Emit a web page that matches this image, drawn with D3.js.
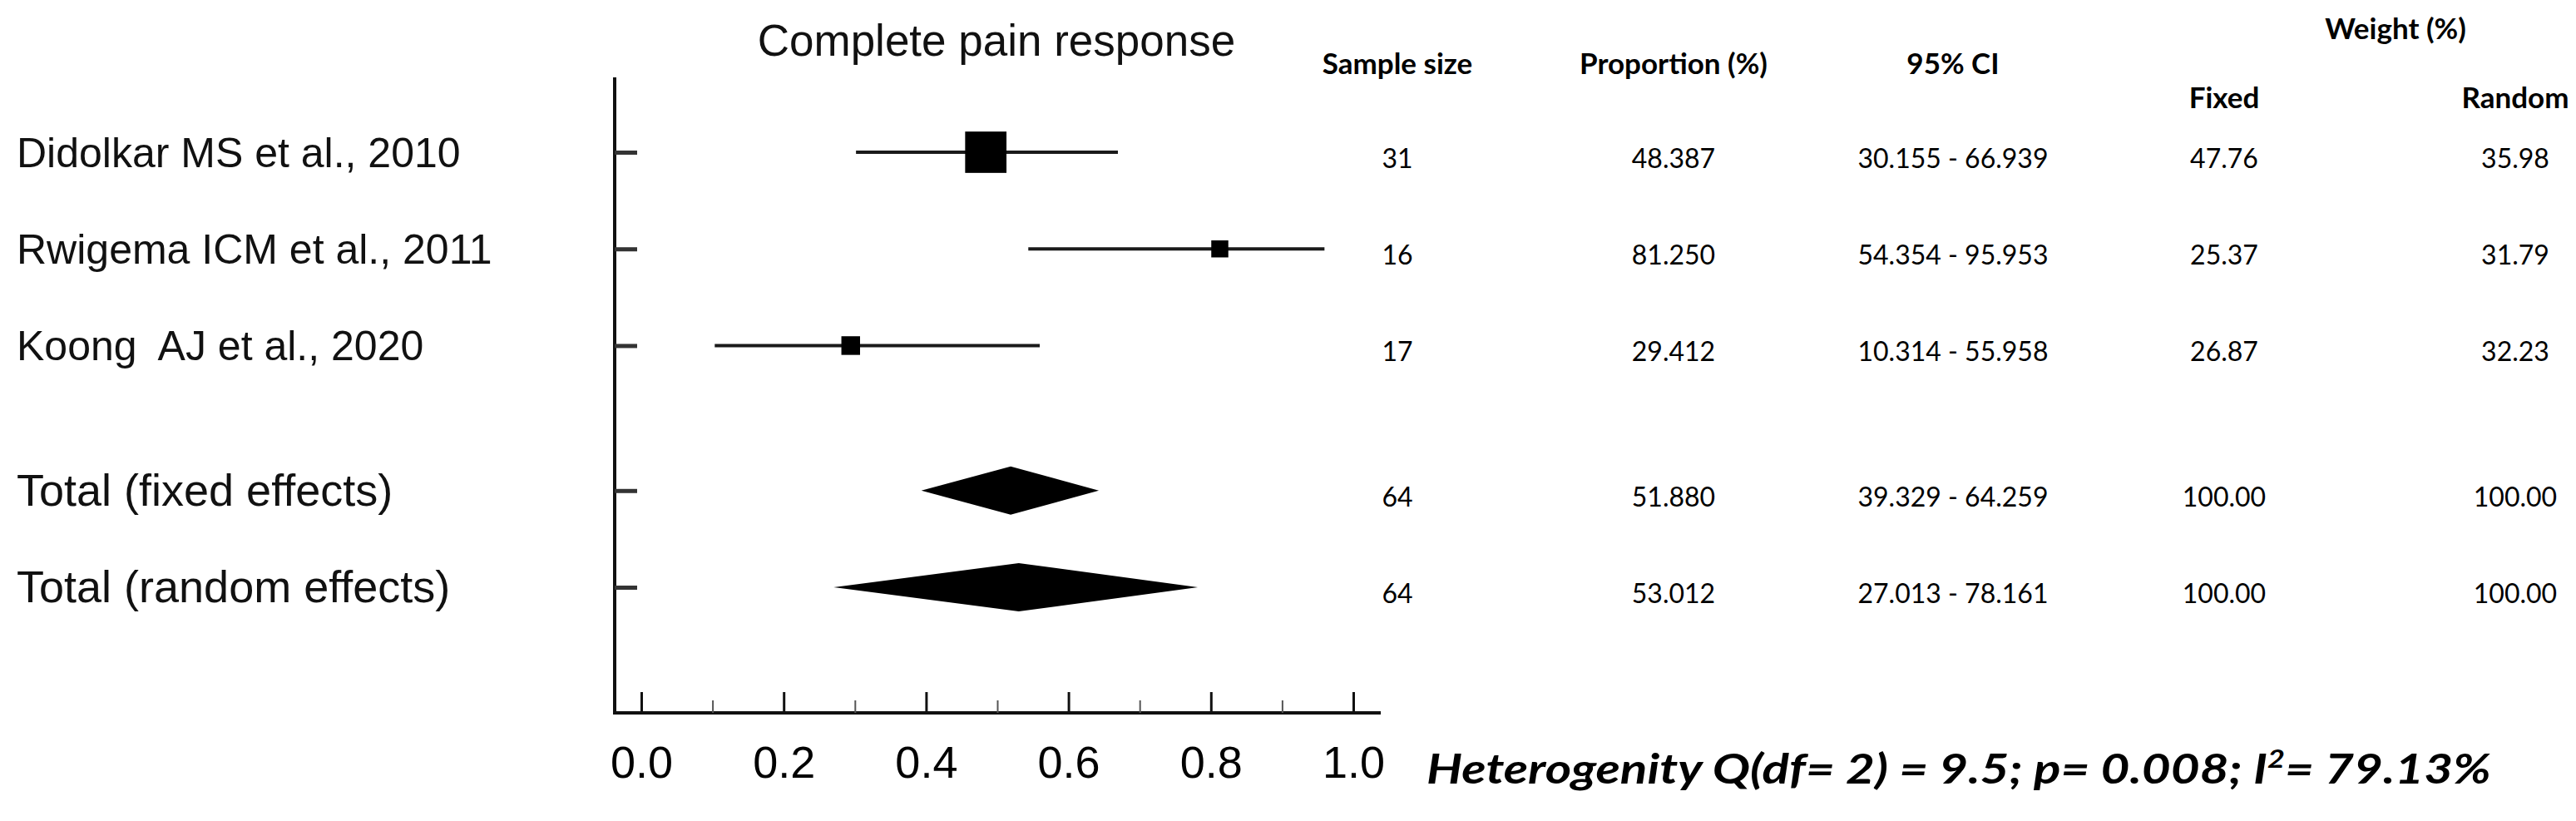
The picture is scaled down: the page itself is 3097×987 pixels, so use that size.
<!DOCTYPE html>
<meta charset="utf-8">
<title>Complete pain response</title>
<style>

body {
  margin: 0;
  background: #fff;
}

svg {
  display: block;
}

.label {
  font-family: "Liberation Sans", Arial, sans-serif;
  font-size: 50px;
  fill: #111;
  white-space: pre;
}

.label.total {
  font-size: 54px;
}

.title {
  font-family: "Liberation Sans", Arial, sans-serif;
  font-size: 53px;
  fill: #111;
}

.head {
  font-family: Lato, "Liberation Sans", sans-serif;
  font-size: 35px;
  font-weight: bold;
  fill: #000;
}

.cell {
  font-family: Lato, "Liberation Sans", sans-serif;
  font-size: 32px;
  fill: #000;
}

.het {
  font-family: Lato, "Liberation Sans", sans-serif;
  font-size: 50px;
  font-weight: bold;
  font-style: italic;
  fill: #000;
}

.axis text {
  font-family: "Liberation Sans", Arial, sans-serif;
  font-size: 54px;
  fill: #000;
}

.axis line {
  stroke: #111;
  stroke-width: 3px;
}

.ci {
  stroke: #1a1a1a;
  stroke-width: 4px;
}

</style>
<body>
<script src="https://cdn.jsdelivr.net/npm/d3@7/dist/d3.min.js"></script>
<script>

var width = 3097,
    height = 987;

// studies first, then the two pooled estimates
var studies = ["Didolkar MS et al., 2010", "Rwigema ICM et al., 2011", "Koong  AJ et al., 2020"];
var pooled = ["Total (fixed effects)", "Total (random effects)"];
var sampleSize = [31, 16, 17, 64, 64];
var proportion = [48.387, 81.250, 29.412, 51.880, 53.012];
var ciLow = [30.155, 54.354, 10.314, 39.329, 27.013];
var ciHigh = [66.939, 95.953, 55.958, 64.259, 78.161];
var weightFixed = [47.76, 25.37, 26.87, 100.00, 100.00];
var weightRandom = [35.98, 31.79, 32.23, 100.00, 100.00];
var xTicks = [0, 0.2, 0.4, 0.6, 0.8, 1.0];
var xMinorTicks = [0.1, 0.3, 0.5, 0.7, 0.9];

var rows = studies.concat(pooled).map(function(name, i) {
  return {
    name: name,
    pooled: i >= studies.length,
    slot: i >= studies.length ? i + 0.5 : i,
    n: sampleSize[i],
    p: proportion[i] / 100,
    lo: ciLow[i] / 100,
    hi: ciHigh[i] / 100,
    wf: weightFixed[i],
    wr: weightRandom[i]
  };
});

var svg = d3.select("body").append("svg")
    .attr("width", width)
    .attr("height", height);

var x = d3.scaleLinear().domain([0, 1]).range([771, 1627]),
    y = d3.scaleLinear().domain([0, 4.5]).range([183, 706]),
    size = d3.scaleLinear().domain([25, 48]).range([20, 50]);

var axisX = 739,
    axisTop = 93,
    axisBottom = 857;

// axes
svg.append("line")
    .attr("x1", axisX).attr("x2", axisX)
    .attr("y1", axisTop).attr("y2", axisBottom + 2)
    .attr("stroke", "#111").attr("stroke-width", 4);

svg.append("line")
    .attr("x1", axisX - 2).attr("x2", 1660)
    .attr("y1", axisBottom).attr("y2", axisBottom)
    .attr("stroke", "#111").attr("stroke-width", 4);

svg.append("g")
    .attr("class", "axis")
    .attr("transform", "translate(0," + axisBottom + ")")
    .call(d3.axisBottom(x).tickValues(xTicks).tickSize(-25).tickPadding(40).tickFormat(d3.format(".1f")))
    .call(function(g) { g.select(".domain").remove(); });

svg.append("g")
    .attr("class", "axis")
    .attr("transform", "translate(0," + axisBottom + ")")
    .call(d3.axisBottom(x).tickValues(xMinorTicks).tickSize(-15).tickFormat(""))
    .call(function(g) { g.select(".domain").remove(); g.selectAll("line").style("stroke-width", "2px").style("stroke", "#555"); });

svg.append("g")
    .attr("class", "axis")
    .attr("transform", "translate(" + axisX + ",0)")
    .call(d3.axisRight(y).tickValues(rows.map(function(d) { return d.slot; })).tickSize(27).tickFormat(""))
    .call(function(g) { g.select(".domain").remove(); g.selectAll("line").style("stroke-width", "5px").style("stroke", "#333"); });

// title and row labels
svg.append("text")
    .attr("class", "title")
    .attr("x", 1198)
    .attr("y", 67)
    .attr("text-anchor", "middle")
    .text("Complete pain response");

svg.selectAll(".label")
    .data(rows)
  .enter().append("text")
    .attr("class", function(d) { return d.pooled ? "label total" : "label"; })
    .attr("x", 20)
    .attr("y", function(d) { return y(d.slot) + 18; })
    .text(function(d) { return d.name; });

// study estimates
var study = svg.selectAll(".study")
    .data(rows.filter(function(d) { return !d.pooled; }))
  .enter().append("g")
    .attr("class", "study");

study.append("line")
    .attr("class", "ci")
    .attr("x1", function(d) { return x(d.lo); })
    .attr("x2", function(d) { return x(d.hi); })
    .attr("y1", function(d) { return y(d.slot); })
    .attr("y2", function(d) { return y(d.slot); });

study.append("rect")
    .attr("x", function(d) { return x(d.p) - size(d.wf) / 2; })
    .attr("y", function(d) { return y(d.slot) - size(d.wf) / 2; })
    .attr("width", function(d) { return size(d.wf); })
    .attr("height", function(d) { return size(d.wf); })
    .attr("fill", "#000");

// pooled diamonds
svg.selectAll(".diamond")
    .data(rows.filter(function(d) { return d.pooled; }))
  .enter().append("path")
    .attr("class", "diamond")
    .attr("fill", "#000")
    .attr("d", function(d) {
      var cy = y(d.slot);
      return "M" + x(d.lo) + "," + cy +
             "L" + x(d.p) + "," + (cy - 29) +
             "L" + x(d.hi) + "," + cy +
             "L" + x(d.p) + "," + (cy + 29) + "Z";
    });

// table
var cols = [
  {x: 1680, head: "Sample size", hy: 77, f: function(d) { return d.n; }},
  {x: 2012, head: "Proportion (%)", hy: 77, f: function(d) { return (d.p * 100).toFixed(3); }},
  {x: 2348, head: "95% CI", hy: 77, f: function(d) { return (d.lo * 100).toFixed(3) + " - " + (d.hi * 100).toFixed(3); }},
  {x: 2674, head: "Fixed", hy: 118, f: function(d) { return d.wf.toFixed(2); }},
  {x: 3024, head: "Random", hy: 118, f: function(d) { return d.wr.toFixed(2); }}
];

svg.append("text")
    .attr("class", "head")
    .attr("x", 2880)
    .attr("y", 47)
    .attr("text-anchor", "middle")
    .text("Weight (%)");

cols.forEach(function(c) {
  svg.append("text")
      .attr("class", "head")
      .attr("x", c.x)
      .attr("y", c.hy + 12)
      .attr("text-anchor", "middle")
      .text(c.head);

  svg.selectAll(null)
      .data(rows)
    .enter().append("text")
      .attr("class", "cell")
      .attr("x", c.x)
      .attr("y", function(d) { return y(d.slot) + 19; })
      .attr("text-anchor", "middle")
      .text(c.f);
});

// heterogeneity
var het = svg.append("text")
    .attr("class", "het")
    .attr("x", 1715)
    .attr("y", 942)
    .attr("textLength", 1280)
    .attr("lengthAdjust", "spacingAndGlyphs");

het.append("tspan").text("Heterogenity Q(df= 2) = 9.5; p= 0.008; I");
het.append("tspan").attr("dy", -19).style("font-size", "30px").text("2");
het.append("tspan").attr("dy", 19).text("= 79.13%");

</script>
</body>
